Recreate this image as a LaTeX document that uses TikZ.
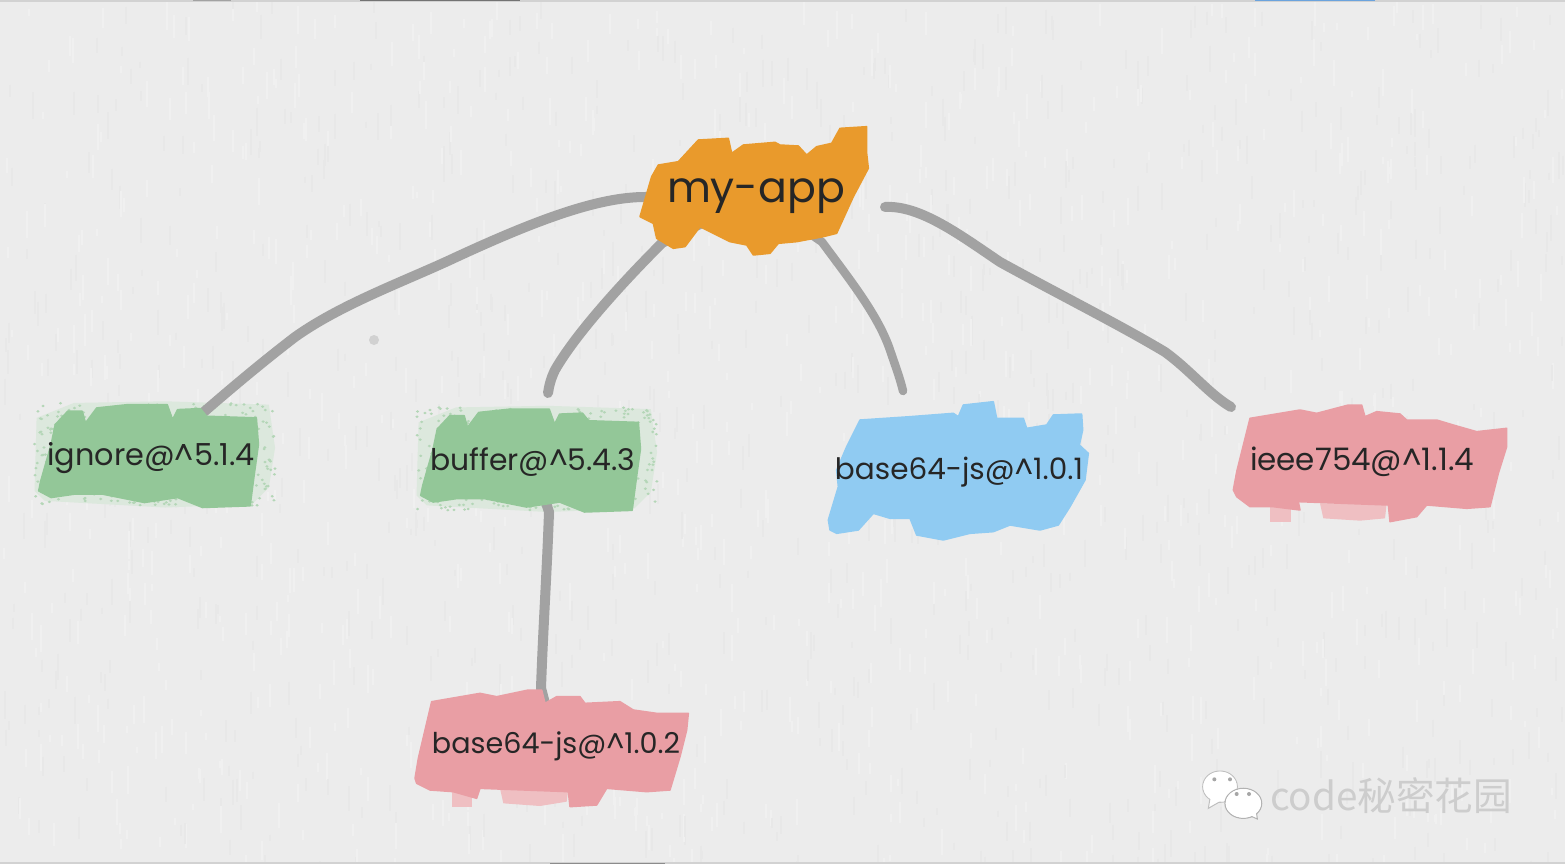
\documentclass[tikz,border=0pt]{standalone}
\usepackage{fontspec}
\setmainfont{Poppins}
\newfontfamily\cjk{Noto Sans CJK SC}
\definecolor{paper}{HTML}{ECECEC}
\definecolor{paperA}{HTML}{E8E8E8}
\definecolor{paperB}{HTML}{F0F0F0}
\definecolor{wire}{HTML}{A2A2A2}
\definecolor{orangeblob}{HTML}{E99A2C}
\definecolor{greenblob}{HTML}{93C798}
\definecolor{greenhalo}{HTML}{DCE8DD}
\definecolor{greenspeck}{HTML}{B4D6B7}
\definecolor{blueblob}{HTML}{90CBF2}
\definecolor{pinkblob}{HTML}{E99EA4}
\definecolor{pinkpale}{HTML}{EFBFC2}
\definecolor{ink}{HTML}{262626}
\definecolor{edgeline}{HTML}{D2D2D2}
\definecolor{wmtext}{HTML}{CDCDCD}
\pgfdeclarelayer{under}
\pgfsetlayers{under,main}
\tikzset{
  conn/.style={draw=wire,line width=10pt,line cap=round,line join=round},
  lab/.style={inner sep=0pt,text=ink},
  zoomed/.style={x=0.33333pt,y=-0.33333pt},
  brush/.style={fill=#1,draw=#1,line width=1.5pt,line join=round},
}
\newcommand{\fit}[2]{\resizebox{#1pt}{!}{#2}}
\newcommand{\halo}[2]{%
  \begin{scope}[shift={(#1,#2)},x=0.4147pt,y=-0.332pt]
    \fill[greenhalo] (35,310)--(40,90)--(130,45)--(350,40)--(600,50)--(615,180)--(600,300)--(560,350)--(350,360)--(60,340)--cycle;
    \foreach \k in {1,...,420}{
      \pgfmathsetmacro{\ax}{35+rnd*580}
      \pgfmathsetmacro{\ay}{45+rnd*310}
      \fill[greenspeck] (\ax,\ay) circle[radius=4];
    }
  \end{scope}}
\newcommand{\greenshape}[2]{%
  \begin{scope}[shift={(#1,#2)},x=0.4147pt,y=-0.332pt]
    \path[brush=greenblob] (50,280)--(75,170)--(85,110)--(115,70)--(150,70)--(158,105)--(185,60)--(260,50)--(355,50)--(368,95)--(380,65)--(435,62)--(450,85)--(570,90)--(575,170)--(565,260)--(555,355)--(440,360)--(380,330)--(300,345)--(200,320)--(130,320)--(75,330)--(45,310)--cycle;
  \end{scope}}
\begin{document}
\begin{tikzpicture}[x=1pt,y=-1pt]
\useasboundingbox (0,0) rectangle (1565,864);

% text nodes (and what the connectors attach to)
\node[lab] (app) at (756,196) {\fit{178}{my-app}};
\node[lab] (ignore) at (151,458) {\fit{207}{ignore@\^{}5.1.4}};
\node[lab] (buffer) at (533,462) {\fit{205}{buffer@\^{}5.4.3}};
\node[lab] (bluejs) at (959,472) {\fit{248}{base64-js@\^{}1.0.1}};
\node[lab] (ieee) at (1362,462) {\fit{224}{ieee754@\^{}1.1.4}};
\node[lab] (pinkjs) at (556,746) {\fit{248}{base64-js@\^{}1.0.2}};
\node[inner sep=0pt,text=wmtext] (mark) at (1391,796) {\fit{242}{\cjk code秘密花园}};
\coordinate (bufferTop) at (548,393);
\coordinate (blueTop) at (903,391);
\coordinate (appGap) at (885,207);
\coordinate (ieeeTop) at (1231,407);

\begin{pgfonlayer}{under}
\fill[paper] (0,0) rectangle (1565,864);
\begin{scope}
  \clip (0,0) rectangle (1565,864);
  \pgfmathsetseed{4242}
  \foreach \k in {1,...,1800}{
    \pgfmathsetmacro{\ax}{rnd*1565}
    \pgfmathsetmacro{\ay}{rnd*864}
    \pgfmathsetmacro{\al}{6+rnd*22}
    \pgfmathtruncatemacro{\pick}{mod(\k,2)}
    \ifnum\pick=0
      \draw[paperA,line width=2pt] (\ax,\ay) -- ++(0,\al);
    \else
      \draw[paperB,line width=2pt] (\ax,\ay) -- ++(0,\al);
    \fi
  }
  \fill[edgeline] (0,0) rectangle (1565,2);
  \fill[edgeline] (0,862) rectangle (1565,864);
  \fill[wire] (193,0) rectangle (231,1.5);
  \fill[black!55] (360,0) rectangle (520,1.5);
  \fill[cyan!60!blue!60!white] (1255,0) rectangle (1375,1.5);
  \fill[black!45] (550,862.5) rectangle (665,864);
  \fill[black!18] (374,340) circle[radius=5];
\end{scope}

\pgfmathsetseed{77}
\halo{20}{388}
\halo{402}{392.5}

% connectors
\draw[conn] (app) -- (645,197) .. controls (600,197) and (540,218) .. (450,260) .. controls (400,283) and (340,305) .. (295,337) .. controls (265,360) and (235,385) .. (205,411) -- (ignore);
\draw[conn] (app) -- (662,243) .. controls (620,285) and (575,335) .. (555,370) .. controls (551,378) and (549,386) .. (bufferTop);
\draw[conn,line width=8.5pt] (app) -- (822,242) .. controls (850,280) and (878,315) .. (890,350) .. controls (895,365) and (900,378) .. (blueTop);
\draw[conn] (appGap) .. controls (920,205) and (960,235) .. (1000,262) .. controls (1060,295) and (1120,325) .. (1165,352) .. controls (1190,370) and (1210,395) .. (ieeeTop);
\draw[conn] (buffer) -- (549,512) .. controls (547,570) and (543,630) .. (541,688) -- (pinkjs);

% brush strokes
\begin{scope}[shift={(620,110)},zoomed]
\path[brush=orangeblob] (60,320)--(95,200)--(115,165)--(175,155)--(235,90)--(325,85)--(335,130)--(370,105)--(465,97)--(480,105)--(535,108)--(560,135)--(590,110)--(635,100)--(660,55)--(740,50)--(740,130)--(745,175)--(700,260)--(650,370)--(610,380)--(530,395)--(475,400)--(450,430)--(400,435)--(380,405)--(330,395)--(240,350)--(195,410)--(160,415)--(110,385)--(100,340)--cycle;
\end{scope}
\greenshape{20}{388}
\greenshape{402}{392.5}
\begin{scope}[shift={(810,390)},zoomed]
\path[brush=blueblob] (55,390)--(85,290)--(80,240)--(110,170)--(150,90)--(300,80)--(430,70)--(445,80)--(460,45)--(550,35)--(560,85)--(640,85)--(650,115)--(710,105)--(730,75)--(815,72)--(818,120)--(808,165)--(835,190)--(825,270)--(780,350)--(745,405)--(690,420)--(600,405)--(550,425)--(480,430)--(400,450)--(320,435)--(300,385)--(240,385)--(190,370)--(145,420)--(80,430)--(60,420)--cycle;
\end{scope}
\begin{scope}[shift={(1220,390)},zoomed]
\fill[pinkpale] (150,350) rectangle (212,395);
\fill[pinkpale] (300,340) -- (500,340) -- (495,385) -- (420,392) -- (310,385) -- cycle;
\path[brush=pinkblob] (40,300)--(50,245)--(90,85)--(240,60)--(290,70)--(385,45)--(425,45)--(435,80)--(470,65)--(540,72)--(560,90)--(650,90)--(700,105)--(770,125)--(860,115)--(860,170)--(835,250)--(810,350)--(740,355)--(620,345)--(590,380)--(510,395)--(505,345)--(235,335)--(240,360)--(160,350)--(90,350)--(50,320)--cycle;
\end{scope}
\begin{scope}[shift={(400,680)},zoomed]
\fill[pinkpale] (155,330) rectangle (215,380);
\fill[pinkpale] (300,325) -- (505,325) -- (500,365) -- (420,378) -- (310,370) -- cycle;
\path[brush=pinkblob] (45,295)--(55,235)--(95,65)--(240,40)--(290,50)--(385,30)--(425,30)--(435,70)--(470,50)--(540,50)--(555,70)--(660,65)--(700,90)--(770,100)--(865,100)--(860,150)--(840,230)--(810,330)--(740,335)--(620,325)--(590,375)--(510,380)--(505,335)--(240,325)--(230,355)--(160,335)--(90,330)--(50,310)--cycle;
\end{scope}

% watermark icon
\begin{scope}[shift={(1180,750)},zoomed]
\fill[white,draw=black!25,line width=1pt] (120,110) ellipse[x radius=52,y radius=47];
\fill[white,draw=black!25,line width=1pt] (90,145) -- (85,175) -- (125,152);
\fill[white] (120,110) ellipse[x radius=50,y radius=45];
\fill[white,draw=black!30,line width=1.2pt] (190,160) ellipse[x radius=55,y radius=45];
\fill[white,draw=black!30,line width=1pt] (205,195) -- (232,207) -- (228,178);
\fill[white] (190,160) ellipse[x radius=53,y radius=43];
\fill[black!35] (103,88) circle[radius=6];
\fill[black!35] (150,88) circle[radius=6];
\fill[black!35] (170,132) circle[radius=6];
\fill[black!35] (207,132) circle[radius=6];
\end{scope}
\end{pgfonlayer}
\end{tikzpicture}
\end{document}
